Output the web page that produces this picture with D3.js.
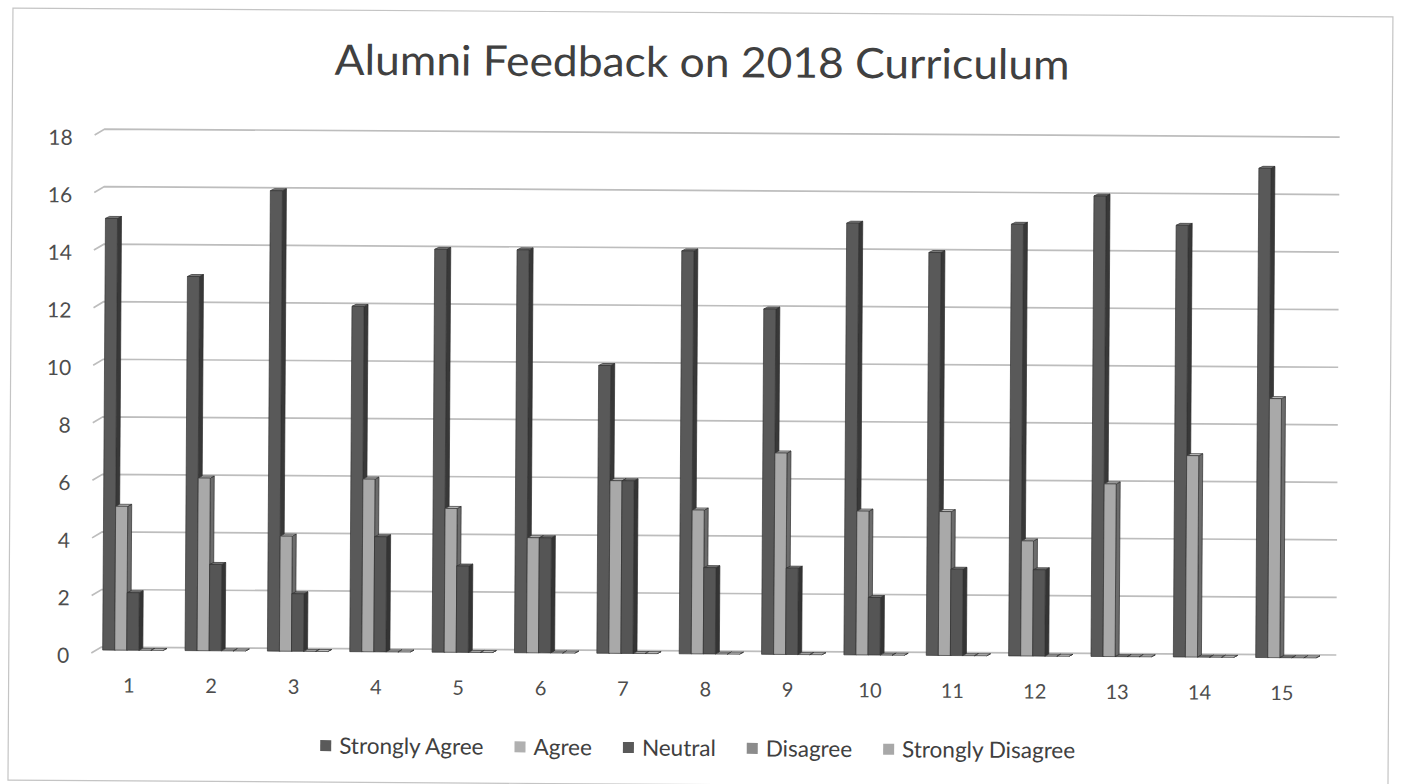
<!DOCTYPE html>
<html>
<head>
<meta charset="utf-8">
<script src="https://cdn.jsdelivr.net/npm/d3@7"></script>
<style>
  html, body { margin: 0; padding: 0; background: #ffffff; }
  svg { display: block; }
  text { font-family: Lato, "Open Sans", sans-serif; }
</style>
</head>
<body>
<svg id="chart" width="1401" height="784"></svg>
<script>
// ---- data ----
const title = "Alumni Feedback on 2018 Curriculum";
const categories = ["1","2","3","4","5","6","7","8","9","10","11","12","13","14","15"];
const seriesNames = ["Strongly Agree","Agree","Neutral","Disagree","Strongly Disagree"];
const stronglyAgree    = [15,13,16,12,14,14,10,14,12,15,14,15,16,15,17];
const agree            = [5,6,4,6,5,4,6,5,7,5,5,4,6,7,9];
const neutral          = [2,3,2,4,3,4,6,3,3,2,3,3,0,0,0];
const disagree         = [0,0,0,0,0,0,0,0,0,0,0,0,0,0,0];
const stronglyDisagree = [0,0,0,0,0,0,0,0,0,0,0,0,0,0,0];
const yTicks = [0,2,4,6,8,10,12,14,16,18];

// ---- styles ----
const frontColors = ["#595959","#a9a9a9","#555555","#8a8a8a","#a6a6a6"];
const sideColors  = ["#383838","#6c6c6c","#343434","#5a5a5a","#6e6e6e"];
const topColors   = ["#7a7a7a","#c2c2c2","#747474","#a4a4a4","#bdbdbd"];
const legendColors = ["#5a5a5a","#b0b0b0","#595959","#8c8c8c","#a8a8a8"];

const values = [stronglyAgree, agree, neutral, disagree, stronglyDisagree];

const svg = d3.select("#chart");
const root = svg.append("g").attr("transform", "rotate(0.37,700,392)");

// chart border
root.append("rect")
  .attr("x", 10.5).attr("y", 12.5).attr("width", 1380).attr("height", 772)
  .attr("fill", "none").attr("stroke", "#c4c4c4").attr("stroke-width", 1.2);

// title
root.append("text")
  .attr("x", 700).attr("y", 77)
  .attr("text-anchor", "middle")
  .attr("font-size", 42)
  .attr("fill", "#404040")
  .attr("textLength", 735)
  .attr("lengthAdjust", "spacingAndGlyphs")
  .text(title);

// scales
const y = d3.scaleLinear().domain([0, 18]).range([650.9, 132.9]);
const barOffset = 3; // bars stand slightly in front of the back wall
const x = d3.scaleBand().domain(categories).range([92, 1334]).paddingInner(0.22).paddingOuter(0.15);
const depthX = 4, depthY = 2;
const xi = d3.scaleBand().domain(seriesNames).range([0, x.bandwidth() - depthX]);

// gridlines (with 3D floor corner slant)
const gridRight = 1338;
root.append("g").selectAll("path")
  .data(yTicks).join("path")
  .attr("d", t => `M${93},${y(t) + 6} L${103},${y(t)} L${gridRight},${y(t)}`)
  .attr("fill", "none")
  .attr("stroke", "#bdbdbd")
  .attr("stroke-width", 1.7);

// y axis labels
root.append("g").selectAll("text")
  .data(yTicks).join("text")
  .attr("x", 71)
  .attr("y", t => y(t) + 16)
  .attr("text-anchor", "end")
  .attr("font-size", 21)
  .attr("fill", "#4d4d4d")
  .text(t => t);

// bars
const groups = root.append("g").selectAll("g")
  .data(categories).join("g")
  .attr("transform", c => `translate(${x(c)},0)`);

groups.each(function(c, ci) {
  const g = d3.select(this);
  seriesNames.forEach((s, si) => {
    const v = values[si][ci];
    const x0 = xi(s), x1 = xi(s) + xi.bandwidth();
    const yb = y(0) + barOffset;
    const yt = y(v) + barOffset;
    // side face
    g.append("path")
      .attr("d", `M${x1},${yt} L${x1 + depthX},${yt - depthY} L${x1 + depthX},${yb - depthY} L${x1},${yb} Z`)
      .attr("fill", sideColors[si]).attr("stroke", "#2e2e2e").attr("stroke-width", 0.7);
    // top face
    g.append("path")
      .attr("d", `M${x0},${yt} L${x0 + depthX},${yt - depthY} L${x1 + depthX},${yt - depthY} L${x1},${yt} Z`)
      .attr("fill", topColors[si]).attr("stroke", "#2e2e2e").attr("stroke-width", 0.7);
    // front face
    g.append("rect")
      .attr("x", x0).attr("y", yt)
      .attr("width", xi.bandwidth()).attr("height", Math.max(0, yb - yt))
      .attr("fill", frontColors[si]).attr("stroke", "#333333").attr("stroke-width", 0.7);
  });
});

// x axis labels
root.append("g").selectAll("text")
  .data(categories).join("text")
  .attr("x", c => x(c) + x.bandwidth() * 0.41)
  .attr("y", 696.3)
  .attr("text-anchor", "middle")
  .attr("font-size", 20)
  .attr("fill", "#4d4d4d")
  .text(c => c);

// legend
const legend = root.append("g");
const items = legend.selectAll("g").data(seriesNames).join("g");
items.append("rect")
  .attr("width", 11).attr("height", 11)
  .attr("y", 742.5)
  .attr("fill", (d, i) => legendColors[i]);
items.append("text")
  .attr("x", 19).attr("y", 756)
  .attr("font-size", 22.5)
  .attr("fill", "#404040")
  .text(d => d);
let cursor = 0;
const widths = [];
items.each(function() {
  const w = 19 + d3.select(this).select("text").node().getComputedTextLength();
  widths.push(w);
});
const totalW = d3.sum(widths) + 31 * (widths.length - 1);
cursor = 700 - totalW / 2;
items.attr("transform", (d, i) => {
  const tx = cursor;
  cursor += widths[i] + 31;
  return `translate(${tx},0)`;
});
</script>
</body>
</html>
